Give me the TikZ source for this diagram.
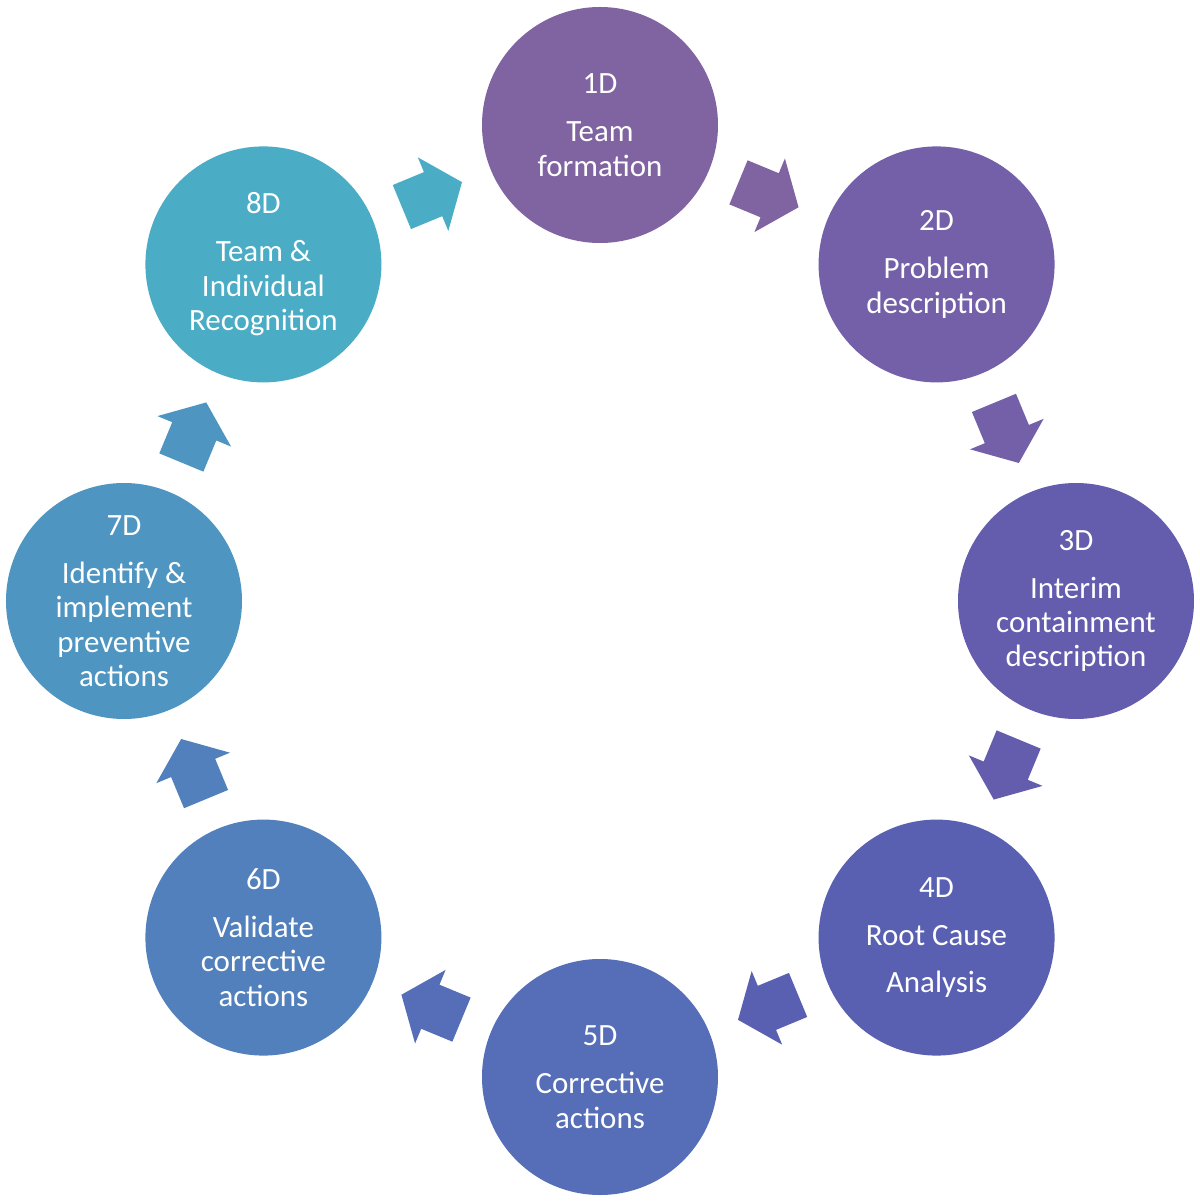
\documentclass[tikz,border=0pt]{standalone}
\usepackage{fontspec}
\setmainfont{Carlito}
\usetikzlibrary{calc,shapes.arrows}

\definecolor{dA}{HTML}{8064A2}
\definecolor{dB}{HTML}{7460A8}
\definecolor{dC}{HTML}{645DAD}
\definecolor{dD}{HTML}{5960B2}
\definecolor{dE}{HTML}{556EB7}
\definecolor{dF}{HTML}{5280BC}
\definecolor{dG}{HTML}{4E95C1}
\definecolor{dH}{HTML}{4BACC6}

\begin{document}
\begin{tikzpicture}
  \tikzstyle{dnode}=[circle,minimum size=4.72cm,inner sep=0pt,text=white,align=center,
                     font=\fontsize{17.6}{19.6}\selectfont]
  \tikzstyle{cycarrow}=[single arrow,inner xsep=0.456cm,inner ysep=0.47cm,
                        single arrow head extend=0.32cm,single arrow tip angle=103.7,
                        minimum width=0pt,minimum height=0pt]

  \useasboundingbox (-12,-12.02) rectangle (12,12.02);

  \node[dnode,fill=dA] (d1) at (90:9.52)   {1D\\[7.7pt]Team\\formation};
  \node[dnode,fill=dB] (d2) at (45:9.52)   {2D\\[7.7pt]Problem\\description};
  \node[dnode,fill=dC] (d3) at (0:9.52)    {3D\\[7.7pt]Interim\\containment\\description};
  \node[dnode,fill=dD] (d4) at (-45:9.52)  {4D\\[7.7pt]Root Cause\\[7.7pt]Analysis};
  \node[dnode,fill=dE] (d5) at (-90:9.52)  {5D\\[7.7pt]Corrective\\actions};
  \node[dnode,fill=dF] (d6) at (-135:9.52) {6D\\[7.7pt]Validate\\corrective\\actions};
  \node[dnode,fill=dG] (d7) at (180:9.52)  {7D\\[7.7pt]Identify \&\\implement\\preventive\\actions};
  \node[dnode,fill=dH] (d8) at (135:9.52)  {8D\\[7.7pt]Team \&\\Individual\\Recognition};

  % arrows sit halfway between two steps, pointing along the chord
  \node[cycarrow,fill=dA,rotate=-22.5]  (a12) at ($(d1)!0.475!(d2)$) {};
  \node[cycarrow,fill=dB,rotate=-67.5]  (a23) at ($(d2)!0.475!(d3)$) {};
  \node[cycarrow,fill=dC,rotate=-112.5] (a34) at ($(d3)!0.475!(d4)$) {};
  \node[cycarrow,fill=dD,rotate=-157.5] (a45) at ($(d4)!0.475!(d5)$) {};
  \node[cycarrow,fill=dE,rotate=157.5]  (a56) at ($(d5)!0.475!(d6)$) {};
  \node[cycarrow,fill=dF,rotate=112.5]  (a67) at ($(d6)!0.475!(d7)$) {};
  \node[cycarrow,fill=dG,rotate=67.5]   (a78) at ($(d7)!0.475!(d8)$) {};
  \node[cycarrow,fill=dH,rotate=22.5]   (a81) at ($(d8)!0.475!(d1)$) {};

\end{tikzpicture}
\end{document}
